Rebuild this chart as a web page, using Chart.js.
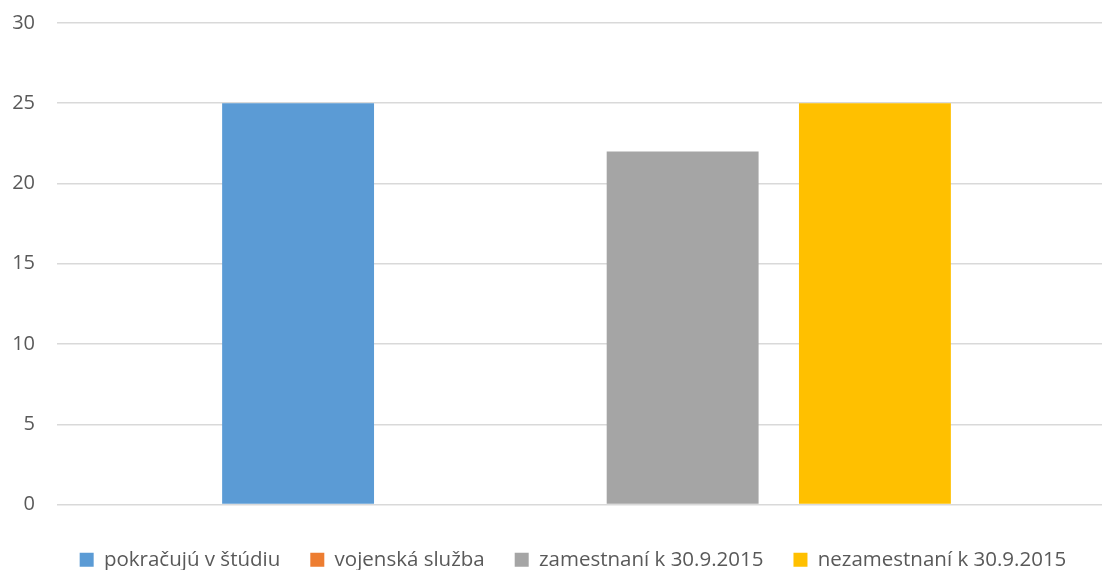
<!DOCTYPE html>
<html>
<head>
<meta charset="utf-8">
<script src="https://cdn.jsdelivr.net/npm/chart.js@4"></script>
<style>
  html, body { margin: 0; padding: 0; background: #fff; }
  #wrap { width: 1103px; height: 570px; }
</style>
</head>
<body>
<div id="wrap"><canvas id="myChart"></canvas></div>
<script>
// one category, four series
const categories = [''];
const seriesNames = ['pokračujú v štúdiu', 'vojenská služba', 'zamestnaní k 30.9.2015', 'nezamestnaní k 30.9.2015'];
const seriesValues = [[25], [0], [22], [25]];
const seriesColors = ['#5B9BD5', '#ED7D31', '#A5A5A5', '#FFC000'];
const yTicks = [0, 5, 10, 15, 20, 25, 30];

Chart.defaults.font.family = "'Open Sans', sans-serif";
Chart.defaults.color = '#595959';

// the reference plot runs a little past the right edge, so nudge the bar group
// and the legend to the right (and the legend a bit lower)
const shiftRight = {
    id: 'shiftRight',
    afterLayout(chart) {
        chart.scales.x._startPixel += 7;
        chart.legend.left += 22;
        chart.legend.right += 22;
        chart.legend.top += 7;
        chart.legend.bottom += 7;
    }
};

var ctx = document.getElementById('myChart').getContext('2d');

const myChart = new Chart(ctx, {
    type: 'bar',
    data: {
        labels: categories,
        datasets: seriesNames.map((name, i) => ({
            label: name,
            data: seriesValues[i],
            backgroundColor: seriesColors[i],
            categoryPercentage: 0.736,
            barPercentage: 0.79
        }))
    },
    options: {
        responsive: true,
        maintainAspectRatio: false,
        animation: false,
        layout: { padding: { top: 23, right: 1, left: 0, bottom: -3 } },
        plugins: {
            tooltip: { enabled: false },
            legend: {
                position: 'bottom',
                labels: {
                    boxWidth: 14,
                    boxHeight: 14,
                    padding: 30,
                    font: { size: 20.5 },
                    color: '#595959'
                }
            }
        },
        scales: {
            x: {
                ticks: { display: false },
                grid: { display: false },
                border: { display: false }
            },
            y: {
                min: 0,
                max: 30,
                afterBuildTicks: (scale) => { scale.ticks = yTicks.map(v => ({ value: v })); },
                afterFit: (scale) => { scale.width = 57; },
                ticks: { padding: 0, font: { size: 20 }, color: '#595959' },
                grid: { color: '#d9d9d9', lineWidth: 1.5, drawTicks: true, tickLength: 22, tickColor: 'rgba(0,0,0,0)' },
                border: { display: false }
            }
        }
    },
    plugins: [shiftRight]
});
</script>
</body>
</html>
